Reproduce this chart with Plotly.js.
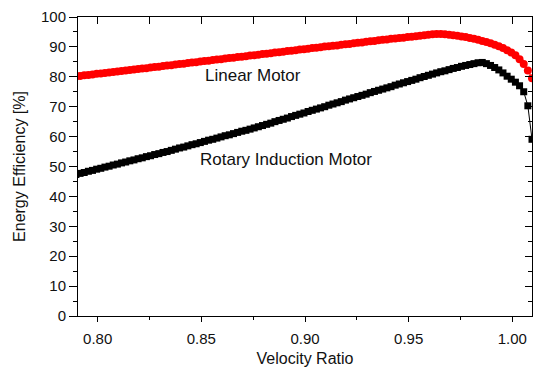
<!DOCTYPE html>
<html>
<head>
<meta charset="utf-8">
<script src="https://cdn.plot.ly/plotly-3.0.1.min.js"></script>
<style>
  html, body { margin: 0; padding: 0; background: #fff; }
  #chart { width: 534px; height: 368px; }
</style>
</head>
<body>
<div id="chart"></div>
<script>
// Velocity ratio samples shared by both motor curves
const velocityRatio = [
  0.7895, 0.7915, 0.7935, 0.7955, 0.7975, 0.7995,
  0.8015, 0.8035, 0.8055, 0.8075, 0.8095, 0.8115, 0.8135, 0.8155, 0.8175, 0.8195,
  0.8215, 0.8235, 0.8255, 0.8275, 0.8295, 0.8315, 0.8335, 0.8355, 0.8375, 0.8395,
  0.8415, 0.8435, 0.8455, 0.8475, 0.8495, 0.8515, 0.8535, 0.8555, 0.8575, 0.8595,
  0.8615, 0.8635, 0.8655, 0.8675, 0.8695, 0.8715, 0.8735, 0.8755, 0.8775, 0.8795,
  0.8815, 0.8835, 0.8855, 0.8875, 0.8895, 0.8915, 0.8935, 0.8955, 0.8975, 0.8995,
  0.9015, 0.9035, 0.9055, 0.9075, 0.9095, 0.9115, 0.9135, 0.9155, 0.9175, 0.9195,
  0.9215, 0.9235, 0.9255, 0.9275, 0.9295, 0.9315, 0.9335, 0.9355, 0.9375, 0.9395,
  0.9415, 0.9435, 0.9455, 0.9475, 0.9495, 0.9515, 0.9535, 0.9555, 0.9575, 0.9595,
  0.9615, 0.9635, 0.9655, 0.9675, 0.9695, 0.9715, 0.9735, 0.9755, 0.9775, 0.9795,
  0.9815, 0.9835, 0.9855, 0.9875, 0.9895, 0.9915, 0.9935, 0.9955, 0.9975, 0.9995,
  1.0015, 1.0035, 1.0055, 1.0075, 1.0095
];

// Energy efficiency [%] of the linear motor
const linearMotor = [
  80.1, 80.3, 80.5, 80.6, 80.8, 81.0,
  81.1, 81.3, 81.4, 81.6, 81.8, 81.9, 82.1, 82.3, 82.4, 82.6,
  82.8, 82.9, 83.1, 83.3, 83.4, 83.6, 83.8, 83.9, 84.1, 84.3,
  84.4, 84.6, 84.8, 84.9, 85.1, 85.3, 85.4, 85.6, 85.8, 85.9,
  86.1, 86.3, 86.4, 86.6, 86.7, 86.9, 87.1, 87.2, 87.4, 87.6,
  87.7, 87.9, 88.1, 88.2, 88.4, 88.6, 88.7, 88.9, 89.1, 89.2,
  89.4, 89.6, 89.7, 89.9, 90.1, 90.2, 90.4, 90.5, 90.7, 90.9,
  91.0, 91.2, 91.4, 91.5, 91.7, 91.9, 92.0, 92.2, 92.4, 92.5,
  92.7, 92.8, 93.0, 93.1, 93.3, 93.4, 93.6, 93.7, 93.9, 94.1,
  94.2, 94.3, 94.3, 94.2, 94.1, 93.9, 93.7, 93.5, 93.3, 93.0,
  92.7, 92.4, 92.0, 91.6, 91.2, 90.7, 90.2, 89.6, 88.9, 88.1,
  87.2, 85.9, 84.3, 82.1, 79.5
];

// Energy efficiency [%] of the rotary induction motor
const rotaryInductionMotor = [
  47.3, 47.7, 48.0, 48.4, 48.7, 49.1,
  49.4, 49.8, 50.1, 50.5, 50.8, 51.2, 51.5, 51.9, 52.2, 52.6,
  52.9, 53.3, 53.6, 54.0, 54.3, 54.7, 55.0, 55.4, 55.8, 56.2,
  56.5, 56.9, 57.3, 57.6, 58.0, 58.4, 58.8, 59.1, 59.5, 59.9,
  60.3, 60.6, 61.0, 61.4, 61.8, 62.1, 62.5, 62.9, 63.3, 63.7,
  64.1, 64.5, 65.0, 65.4, 65.8, 66.2, 66.7, 67.1, 67.5, 67.9,
  68.4, 68.8, 69.2, 69.6, 70.0, 70.5, 70.9, 71.3, 71.7, 72.2,
  72.6, 73.0, 73.4, 73.8, 74.2, 74.7, 75.1, 75.5, 75.9, 76.3,
  76.7, 77.2, 77.6, 78.0, 78.4, 78.8, 79.2, 79.7, 80.1, 80.5,
  80.9, 81.3, 81.7, 82.0, 82.4, 82.8, 83.1, 83.5, 83.8, 84.1,
  84.4, 84.7, 84.8, 84.4, 83.8, 83.1, 82.3, 81.3, 80.2, 79.2,
  78.2, 77.0, 75.0, 70.3, 59.1
];

const xRange = [0.7905, 1.0095];
const yRange = [0, 100];
const FONT = 'Liberation Sans, Arial, sans-serif';

const traces = [
  {
    x: velocityRatio, y: linearMotor, name: 'Linear Motor',
    type: 'scatter', mode: 'lines+markers',
    line: { color: '#ff0000', width: 1 },
    marker: { symbol: 'circle', size: 8, color: '#ff0000' },
    showlegend: false, hoverinfo: 'x+y'
  },
  {
    x: velocityRatio, y: rotaryInductionMotor, name: 'Rotary Induction Motor',
    type: 'scatter', mode: 'lines+markers',
    line: { color: '#000000', width: 1 },
    marker: { symbol: 'square', size: 7, color: '#000000' },
    showlegend: false, hoverinfo: 'x+y'
  },
  // empty trace so the mirrored top/right frame axes get their own subplot
  { x: [], y: [], xaxis: 'x2', yaxis: 'y2', type: 'scatter', mode: 'markers',
    showlegend: false, hoverinfo: 'skip' }
];

const layout = {
  width: 534, height: 368,
  margin: { l: 78, r: 2, t: 17, b: 52 },
  paper_bgcolor: '#ffffff', plot_bgcolor: '#ffffff',
  font: { family: FONT, size: 15, color: '#111' },
  showlegend: false,
  xaxis: {
    range: xRange, tick0: 0.8, dtick: 0.05, tickformat: '.2f',
    ticks: 'outside', ticklen: 5, tickwidth: 1, tickcolor: '#000',
    ticklabelstandoff: 4,
    minor: { dtick: 0.025, tick0: 0.8, ticks: 'outside', ticklen: 3, tickwidth: 1, tickcolor: '#000', showgrid: false },
    showline: true, linecolor: '#000', linewidth: 1,
    showgrid: false, zeroline: false,
    tickfont: { family: FONT, size: 15, color: '#111' },
    title: { text: 'Velocity Ratio', font: { family: FONT, size: 16, color: '#111' }, standoff: 6 }
  },
  yaxis: {
    range: yRange, tick0: 0, dtick: 10,
    ticks: 'outside', ticklen: 8, tickwidth: 1, tickcolor: '#000',
    minor: { dtick: 5, tick0: 0, ticks: 'outside', ticklen: 4, tickwidth: 1, tickcolor: '#000', showgrid: false },
    showline: true, linecolor: '#000', linewidth: 1,
    showgrid: false, zeroline: false,
    tickfont: { family: FONT, size: 15, color: '#111' },
    title: { text: 'Energy Efficiency [%]', font: { family: FONT, size: 16, color: '#111' }, standoff: 11 }
  },
  xaxis2: {
    overlaying: 'x', side: 'top', anchor: 'y2', range: xRange,
    tick0: 0.8, dtick: 0.025, ticks: 'inside', ticklen: 7, tickwidth: 1, tickcolor: '#000',
    showticklabels: false, showline: true, linecolor: '#000', linewidth: 1,
    showgrid: false, zeroline: false
  },
  yaxis2: {
    overlaying: 'y', side: 'right', anchor: 'x2', range: yRange,
    tick0: 0, dtick: 10, ticks: 'inside', ticklen: 7, tickwidth: 1, tickcolor: '#000',
    minor: { dtick: 5, tick0: 0, ticks: 'inside', ticklen: 4, tickwidth: 1, tickcolor: '#000', showgrid: false },
    showticklabels: false, showline: true, linecolor: '#000', linewidth: 1,
    showgrid: false, zeroline: false
  },
  annotations: [
    { x: 0.8749, y: 80.6, xref: 'x', yref: 'y', text: 'Linear Motor', showarrow: false,
      xanchor: 'center', yanchor: 'middle', font: { family: FONT, size: 17, color: '#111' } },
    { x: 0.8906, y: 52.2, xref: 'x', yref: 'y', text: 'Rotary Induction Motor', showarrow: false,
      xanchor: 'center', yanchor: 'middle', font: { family: FONT, size: 17, color: '#111' } }
  ]
};

Plotly.newPlot('chart', traces, layout, { staticPlot: true, displayModeBar: false });
</script>
</body>
</html>
